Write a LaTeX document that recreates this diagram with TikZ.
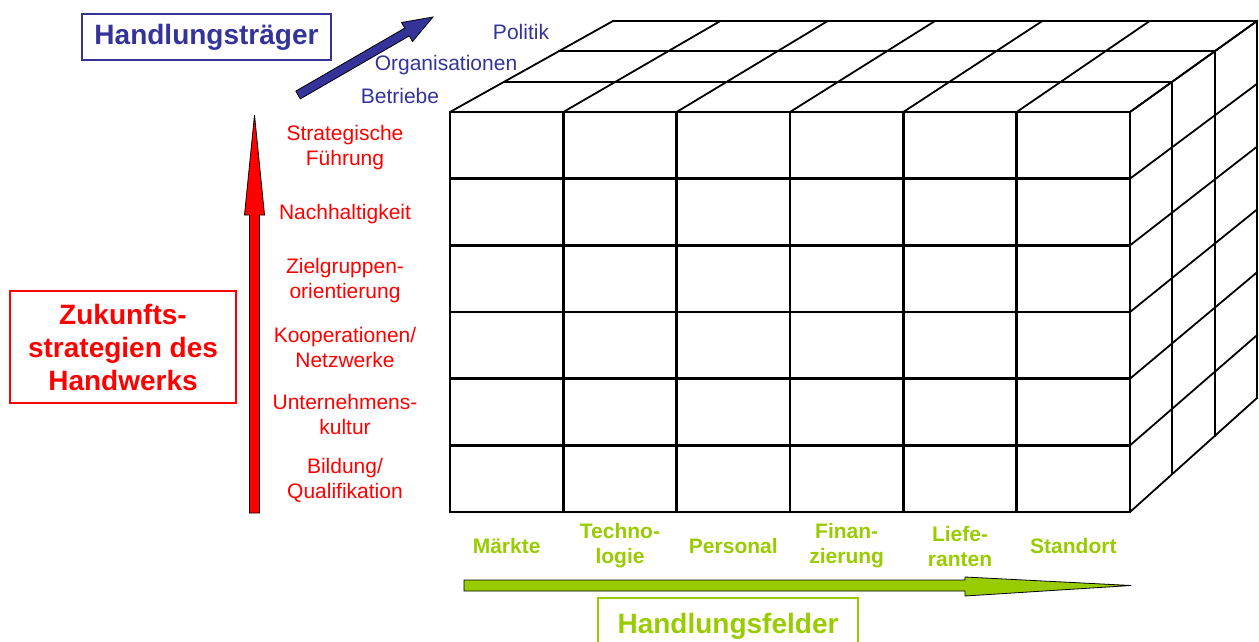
\documentclass[tikz,border=0pt]{standalone}
\usepackage{fontspec}
\setmainfont{Liberation Sans}
\definecolor{traeger}{HTML}{333399}
\definecolor{feld}{HTML}{99CC00}
\tikzset{
  front/.style={line width=2.5pt,line cap=rect},
  edge/.style={line width=1.8pt,line cap=rect},
  rowlabel/.style={text=red,font=\fontsize{21}{25}\selectfont,align=center},
  fieldlabel/.style={text=feld,font=\fontsize{21}{25}\selectfont\bfseries,align=center},
  actorlabel/.style={text=traeger,font=\fontsize{21}{25}\selectfont},
  titlebox/.style={draw,line width=1.2pt,inner sep=0pt,align=center}
}
\begin{document}
\begin{tikzpicture}[x=1pt,y=-1pt]
  \useasboundingbox (0,0) rectangle (1259,642);
  \clip (0,0) rectangle (1259,642);

  % corner points of the cube: column u, row v, layer w
  \foreach \u in {0,...,6} {%
    \foreach \v in {0,...,6} {%
      \foreach \w in {0,...,3} {%
        \pgfmathsetmacro\fx{450+\u*113.333}
        \pgfmathsetmacro\fy{512-\v*66.667}
        \pgfmathsetmacro\bx{613+\u*107.333}
        \pgfmathsetmacro\by{398-\v*62.833}
        \coordinate (p-\u-\v-\w) at ({\fx+(\bx-\fx)*\w/3},{\fy+(\by-\fy)*\w/3});
      }
    }
  }

  % top and right faces
  \foreach \i in {0,...,6} {%
    \draw[edge] (p-\i-6-0) -- (p-\i-6-3);
    \draw[edge] (p-6-\i-0) -- (p-6-\i-3);
  }
  \foreach \w in {1,2,3} {%
    \draw[edge] (p-0-6-\w) -- (p-6-6-\w);
    \draw[edge] (p-6-0-\w) -- (p-6-6-\w);
  }

  % front face
  \foreach \i in {0,...,6} {%
    \draw[front] (p-0-\i-0) -- (p-6-\i-0);
    \draw[front] (p-\i-0-0) -- (p-\i-6-0);
  }

  % arrows
  \draw[fill=traeger,line width=0.8pt] (295.8,91.1) -- (404.8,28.1) -- (401.5,22.5)
    -- (433,17) -- (412.5,41.5) -- (409.3,35.9) -- (300.3,98.9) -- cycle;
  \draw[fill=red,line width=0.8pt] (249.5,513) -- (249.5,215) -- (244.5,215)
    -- (254.5,115) -- (264.5,215) -- (259.5,215) -- (259.5,513) -- cycle;
  \draw[fill=feld,line width=0.8pt] (464,580) -- (965,580) -- (965,577)
    -- (1131,585.5) -- (965,596) -- (965,591) -- (464,591) -- cycle;

  % Handlungstraeger
  \node[titlebox,draw=traeger,text=traeger,minimum width=249pt,minimum height=46pt,
    font=\fontsize{28}{32}\selectfont\bfseries] (traeger) at (206.5,37) {Handlungsträger};
  \node[actorlabel] (politik) at (521,32) {Politik};
  \node[actorlabel] (organisationen) at (446,65) {Organisationen};
  \node[actorlabel] (betriebe) at (400,96) {Betriebe};

  % Zukunftsstrategien
  \node[titlebox,draw=red,text=red,minimum width=226pt,minimum height=112pt,
    font=\fontsize{28}{33}\selectfont\bfseries] (strategien) at (123,347)
    {Zukunfts-\\strategien des\\Handwerks};
  \foreach \txt [count=\r] in {{Bildung/\\Qualifikation}, {Unternehmens-\\kultur},
    {Kooperationen/\\Netzwerke}, {Zielgruppen-\\orientierung}, Nachhaltigkeit,
    {Strategische\\Führung}} {%
    \node[rowlabel] (row-\r) at (345,{514-(\r-0.5)*66.667}) {\txt};
  }

  % Handlungsfelder
  \foreach \txt [count=\c] in {Märkte, {Techno-\\logie}, Personal, {Finan-\\zierung},
    {Liefe-\\ranten}, Standort} {%
    \node[fieldlabel] (feld-\c) at ({450+(\c-0.5)*113.333},546) {\txt};
  }
  \node[titlebox,draw=feld,text=feld,minimum width=260pt,minimum height=56pt,
    font=\fontsize{28}{32}\selectfont\bfseries] (felder) at (728,626) {Handlungsfelder};
\end{tikzpicture}
\end{document}
